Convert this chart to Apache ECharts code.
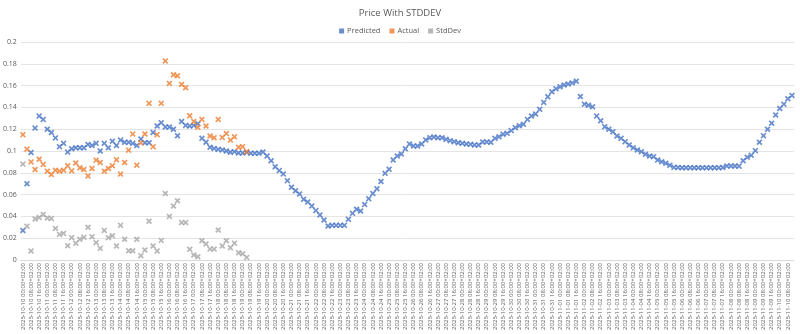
<!DOCTYPE html>
<html>
<head>
<meta charset="utf-8">
<script src="https://cdn.jsdelivr.net/npm/echarts@6/dist/echarts.min.js"></script>
<style>html,body{margin:0;padding:0;background:#fff}#c{width:800px;height:334px}</style>
</head>
<body>
<div id="c"></div>
<script>
// ---- data ----
const startTime = '2025-10-10T00:00:00+02:00';
const stepHours = 4;
const pointCount = 190;

const predicted = [
0.027,0.070,0.0986,0.121,0.132,0.129,0.120,0.117,0.112,0.104,
0.107,0.099,0.102,0.103,0.103,0.103,0.106,0.105,0.107,0.100,
0.107,0.103,0.109,0.105,0.110,0.108,0.108,0.107,0.105,0.111,
0.1076,0.1076,0.117,0.123,0.126,0.122,0.122,0.120,0.114,0.127,
0.1235,0.123,0.1235,0.125,0.1116,0.108,0.1034,0.1024,0.1015,0.101,
0.100,0.0988,0.0994,0.0982,0.0982,0.0988,0.0979,0.0979,0.0979,
0.0991,0.0954,0.0911,0.0856,0.082,0.079,0.0728,0.0667,0.0636,0.0606,
0.0557,0.0532,0.0495,0.0453,0.0413,0.0367,0.0312,0.0318,0.0318,0.0318,
0.0318,0.0373,0.0428,0.0465,0.045,0.051,0.0563,0.061,0.0654,0.072,
0.0795,0.0832,0.0917,0.0954,
0.0972,0.1021,0.1064,0.1046,0.1046,0.1064,0.1101,0.1122,0.1128,0.1122,
0.1122,0.1107,0.1095,0.1086,0.1076,0.107,0.1064,0.1061,0.1055,0.1055,
0.1083,0.1083,0.108,0.1116,0.1131,0.1153,0.1162,0.1187,0.1214,0.1232,
0.1245,0.129,0.1321,0.1339,0.1382,0.1446,0.1498,0.1544,
0.157,0.159,0.1605,0.1615,0.1625,0.164,
0.150,0.143,0.142,0.1405,0.132,0.1278,0.1223,0.120,0.1177,0.1138,
0.1116,0.1086,0.1055,0.103,0.1009,0.0994,0.097,0.0954,0.0948,0.0917,
0.0902,0.0887,0.0869,0.085,
0.0848,0.0846,0.0847,0.0846,0.0846,0.0847,0.0846,0.0846,0.0847,0.0846,0.0847,0.0848,
0.0862,0.0862,0.0862,0.0861,
0.0911,0.0942,0.096,0.1003,0.108,0.1141,0.120,0.1254,0.133,0.139,0.143,0.148,0.151
];

const actual = [
0.115,0.1017,0.090,0.083,0.0925,0.0876,0.0815,0.0785,0.0824,0.0815,
0.0824,0.0864,0.0818,0.089,0.0846,0.083,0.077,0.084,0.0916,0.0895,
0.0815,0.084,0.0864,0.092,0.0788,0.0895,0.1008,0.1155,0.087,0.1076,
0.1156,0.1437,0.104,0.115,0.1437,0.1826,0.162,0.170,0.169,0.161,
0.158,0.1324,0.127,0.1217,0.129,0.123,0.1138,0.1122,0.129,0.1125,
0.116,0.110,0.113,0.1034,0.104,0.0994
];

const stdDev = [
0.088,0.031,0.0082,0.0376,0.039,0.0418,0.0385,0.038,0.029,0.0235,
0.0244,0.0131,0.0205,0.0153,0.019,0.0208,0.030,0.0214,0.0159,0.0107,
0.027,0.0205,0.0223,0.0128,0.0318,0.019,0.0085,0.0085,0.019,0.004,
0.0092,0.0355,0.0128,0.0083,0.018,0.061,0.040,0.0495,0.0544,0.0343,
0.0343,0.0098,0.0046,0.003,0.0177,0.0147,0.010,0.010,0.0275,0.0128,
0.0177,0.0113,0.0153,0.0067,0.0058,0.0024
];

const yTicks = [0,0.02,0.04,0.06,0.08,0.1,0.12,0.14,0.16,0.18,0.2];

// category labels (timestamps, +02:00)
function pad(n){return (n<10?'0':'')+n;}
const categories = [];
(function(){
  const t0 = new Date(startTime).getTime();
  for (let i=0;i<pointCount;i++){
    const d = new Date(t0 + i*stepHours*3600*1000 + 2*3600*1000);
    categories.push(d.getUTCFullYear()+'-'+pad(d.getUTCMonth()+1)+'-'+pad(d.getUTCDate())+' '+pad(d.getUTCHours())+':00+02:00');
  }
})();

// ---- chart ----
const X = 'path://M0,2L2,0L5,3L8,0L10,2L7,5L10,8L8,10L5,7L2,10L0,8L3,5Z';
const chart = echarts.init(document.getElementById('c'));
const txt = '#595959';
function ser(name, data, color){
  return {name:name, type:'scatter', data:data, symbol:X, symbolSize:6,
          itemStyle:{color:color}, emphasis:{disabled:true}, animation:false};
}
chart.setOption({
  animation:false,
  textStyle:{fontFamily:'Open Sans, Liberation Sans, sans-serif'},
  title:{text:'Price With STDDEV', left:'center', top:3,
         textStyle:{fontSize:9.5, fontWeight:'normal', color:txt}},
  legend:{top:22, left:'center', itemWidth:5, itemHeight:5, itemGap:9,
          icon:'rect', textStyle:{fontSize:7.5, color:txt, padding:[0,0,0,-2]},
          data:['Predicted','Actual','StdDev']},
  grid:{left:18, right:6, top:42, bottom:74, containLabel:false},
  xAxis:{type:'category', data:categories, boundaryGap:true,
         axisLine:{lineStyle:{color:'#D9D9D9'}}, axisTick:{show:false},
         axisLabel:{rotate:90, interval:1, fontSize:6, color:txt, margin:3}},
  yAxis:{type:'value', min:yTicks[0], max:yTicks[yTicks.length-1], interval:0.02,
         axisLine:{show:false}, axisTick:{show:false},
         splitLine:{lineStyle:{color:'#E4E4E4'}},
         axisLabel:{fontSize:7, color:txt, margin:4}},
  series:[ser('Predicted',predicted,'#4472C4'), ser('Actual',actual,'#ED7D31'), ser('StdDev',stdDev,'#A5A5A5')]
});
</script>
</body>
</html>
